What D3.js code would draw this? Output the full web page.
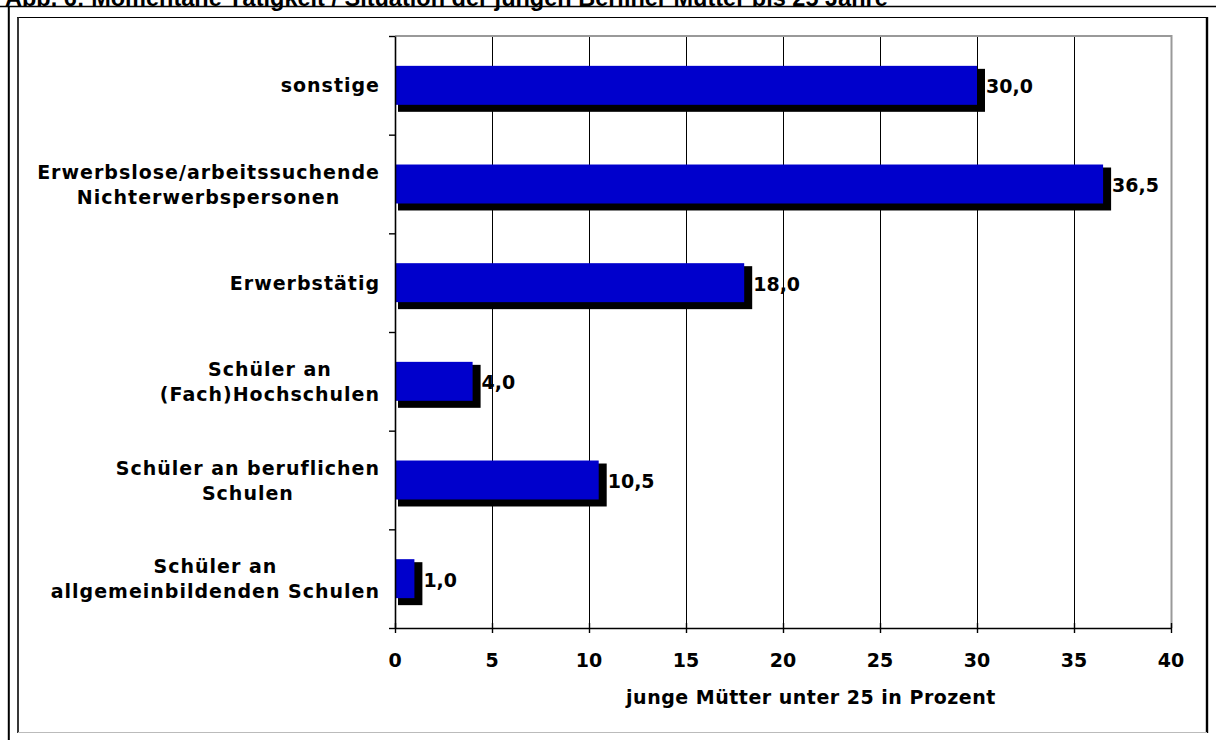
<!DOCTYPE html>
<html>
<head>
<meta charset="utf-8">
<script src="https://cdn.jsdelivr.net/npm/d3@7"></script>
<style>
  body { margin: 0; background: #fff; }
  svg { display: block; }
  .lbl { font-family: "DejaVu Sans", Verdana, sans-serif; font-weight: bold; font-size: 19px; fill: #000; }
  .cat { letter-spacing: 1px; }
</style>
</head>
<body>
<div id="chart"></div>
<script>
// Categories top to bottom, each split into its printed lines
const categories = [
    ["sonstige"],
    ["Erwerbslose/arbeitssuchende", "Nichterwerbspersonen"],
    ["Erwerbstätig"],
    ["Schüler an", "(Fach)Hochschulen"],
    ["Schüler an beruflichen", "Schulen"],
    ["Schüler an", "allgemeinbildenden Schulen"]
];
const values = [30.0, 36.5, 18.0, 4.0, 10.5, 1.0];
const xTicks = [0, 5, 10, 15, 20, 25, 30, 35, 40];
const xTitle = "junge Mütter unter 25 in Prozent";
const title = "Abb. 6: Momentane Tätigkeit / Situation der jungen Berliner Mütter bis 25 Jahre";

const W = 1216, H = 740;
const de = d3.formatLocale({ decimal: ",", thousands: ".", grouping: [3], currency: ["", " €"] });
const fmt = de.format(".1f");

const svg = d3.select("#chart").append("svg")
    .attr("width", W)
    .attr("height", H);

// page title, cut off at the top
svg.append("text")
    .attr("x", 5)
    .attr("y", 5.5)
    .attr("font-family", "'Liberation Sans', Arial, sans-serif")
    .attr("font-weight", "bold")
    .attr("font-size", 23.5)
    .attr("fill", "#000")
    .text(title);

// outer table lines
svg.append("line").attr("x1", 0).attr("x2", W).attr("y1", 6.5).attr("y2", 6.5)
    .attr("stroke", "#000").attr("stroke-width", 1.6);
svg.append("line").attr("x1", 8.8).attr("x2", 8.8).attr("y1", 6).attr("y2", H)
    .attr("stroke", "#000").attr("stroke-width", 2);

// chart frame
svg.append("line").attr("x1", 17).attr("x2", 1207).attr("y1", 17.5).attr("y2", 17.5).attr("stroke", "#000").attr("stroke-width", 1.2);
svg.append("line").attr("x1", 18).attr("x2", 18).attr("y1", 17).attr("y2", 733).attr("stroke", "#222").attr("stroke-width", 1.8);
svg.append("line").attr("x1", 1207).attr("x2", 1207).attr("y1", 17).attr("y2", 733).attr("stroke", "#000").attr("stroke-width", 2.4);
svg.append("line").attr("x1", 18).attr("x2", 1207).attr("y1", 732.5).attr("y2", 732.5).attr("stroke", "#bbb").attr("stroke-width", 1);

const plotL = 395, plotR = 1171, plotT = 36, plotB = 628;

const x = d3.scaleLinear().domain([0, 40]).range([plotL, plotR]);
const y = d3.scaleBand()
    .domain(d3.range(categories.length))
    .range([plotT, plotB])
    .paddingInner(0.605)
    .paddingOuter(0.3025);
const yEdges = d3.scaleLinear().domain([0, categories.length]).range([plotT, plotB]);

// vertical gridlines
svg.append("g")
    .selectAll("line")
    .data(xTicks.slice(1, -1))
    .enter().append("line")
    .attr("x1", d => x(d) + 0.5)
    .attr("x2", d => x(d) + 0.5)
    .attr("y1", plotT)
    .attr("y2", plotB)
    .attr("stroke", "#000")
    .attr("stroke-width", 1);

// plot area top and right border (gray)
svg.append("path")
    .attr("d", `M${plotL},${plotT}H${x(40) + 0.5}V${plotB}`)
    .attr("fill", "none")
    .attr("stroke", "#999")
    .attr("stroke-width", 2);

// bar shadows
svg.append("g")
    .selectAll("rect")
    .data(values)
    .enter().append("rect")
    .attr("x", x(0) + 3)
    .attr("y", (d, i) => y(i) + 3)
    .attr("width", d => x(d) - x(0) + 5)
    .attr("height", y.bandwidth() + 4)
    .attr("fill", "#000");

// bars
svg.append("g")
    .selectAll("rect")
    .data(values)
    .enter().append("rect")
    .attr("x", x(0))
    .attr("y", (d, i) => y(i))
    .attr("width", d => x(d) - x(0))
    .attr("height", y.bandwidth())
    .attr("fill", "#0000CC");

// value labels
svg.append("g")
    .selectAll("text")
    .data(values)
    .enter().append("text")
    .attr("class", "lbl")
    .attr("x", d => x(d) + 9)
    .attr("y", (d, i) => y(i) + y.bandwidth() / 2 + 8)
    .text(d => fmt(d));

// x axis
const xAxis = svg.append("g")
    .attr("transform", `translate(0,${plotB})`)
    .call(d3.axisBottom(x).tickValues(xTicks).tickSize(6).tickSizeOuter(0).tickPadding(0));
xAxis.select(".domain").attr("stroke", "#000").attr("stroke-width", 1.6);
xAxis.selectAll(".tick line").attr("y1", -5).attr("y2", 5).attr("stroke-width", 1.4);
xAxis.selectAll(".tick text").remove();
svg.append("g")
    .selectAll("text")
    .data(xTicks)
    .enter().append("text")
    .attr("class", "lbl")
    .attr("text-anchor", "middle")
    .attr("x", d => x(d))
    .attr("y", 667)
    .text(d => d);

// y axis (ticks at category boundaries)
const yAxis = svg.append("g")
    .attr("transform", `translate(${plotL},0)`)
    .call(d3.axisLeft(yEdges).ticks(categories.length).tickSize(6).tickSizeOuter(0).tickFormat(""));
yAxis.select(".domain").attr("stroke", "#000").attr("stroke-width", 1.6);
yAxis.selectAll(".tick line").attr("stroke-width", 1.4);

// category labels: block right-aligned at 380, lines centred within it
const catG = svg.append("g");
categories.forEach((lines, i) => {
    const g = catG.append("g");
    const cy = y(i) + y.bandwidth() / 2;
    const lh = 25;
    const texts = lines.map((s, j) => g.append("text")
        .attr("class", "lbl cat")
        .attr("text-anchor", "middle")
        .attr("y", cy + 7 + (j - (lines.length - 1) / 2) * lh)
        .text(s));
    const maxW = d3.max(texts, t => t.node().getComputedTextLength());
    texts.forEach(t => t.attr("x", 380 - maxW / 2));
});

// axis title
svg.append("text")
    .attr("class", "lbl")
    .attr("text-anchor", "middle")
    .attr("letter-spacing", 0.5)
    .attr("x", 811)
    .attr("y", 704)
    .text(xTitle);
</script>
</body>
</html>
